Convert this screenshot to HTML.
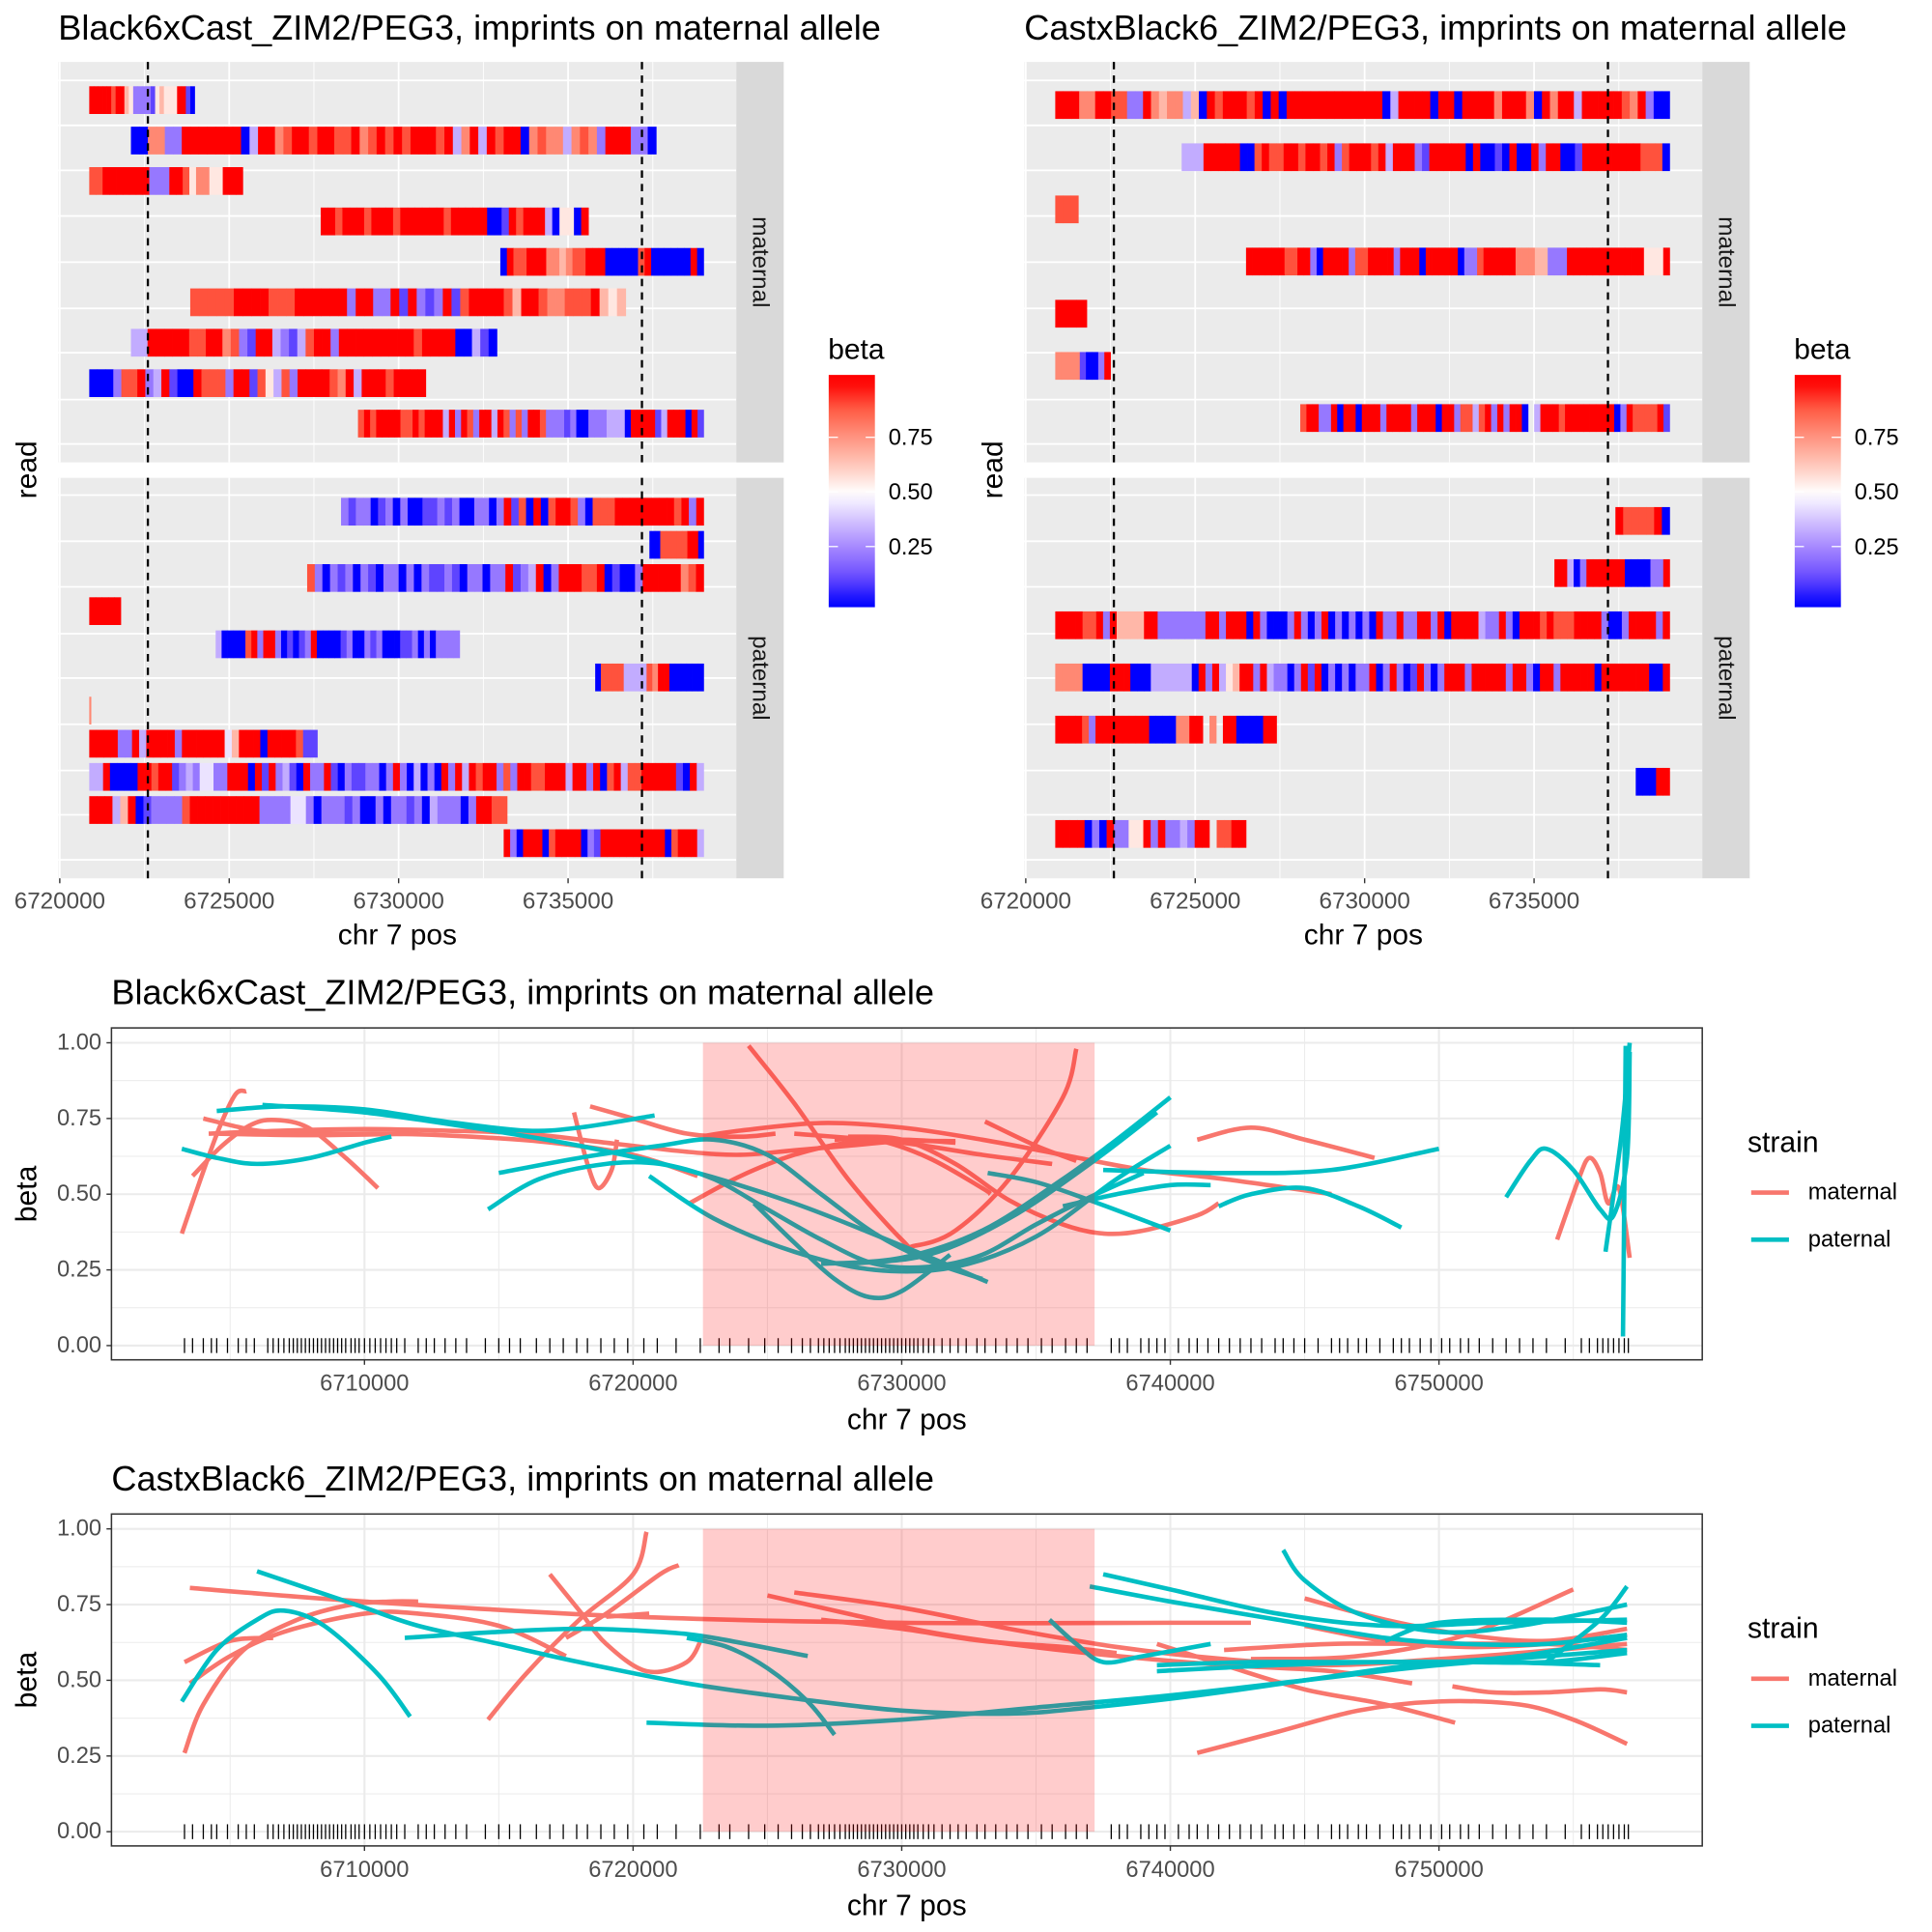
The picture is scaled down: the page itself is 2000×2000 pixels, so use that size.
<!DOCTYPE html>
<html><head><meta charset="utf-8"><style>
html,body{margin:0;padding:0;background:#fff}
svg{display:block}
text{font-family:"Liberation Sans",Arial,sans-serif}
</style></head><body>
<svg id="root" xmlns="http://www.w3.org/2000/svg" width="2000" height="2000" viewBox="0 0 1560 1560">
<rect x="0" y="0" width="1560" height="1560" fill="#fff"/>
<g id="heat"></g>
<g id="curves"></g>
</svg>
<script>
// ===== Heatmap data: [startKb, endKb, beta codes 0-9 (beta=code/9), '.' = gap] =====
const leftMaternal = [
 [6720.87,6723.98,"999998996522221565559910"],
 [6722.1,6737.6,"00772299999990399789989988978989899989379398990787737872999220"],
 [6720.87,6725.4,"88999999922299857755999"],
 [6727.7,6735.6,"9989998999899999989999900198999305509"],
 [6733.0,6739.0,"0988999776788999000008900000090"],
 [6723.85,6736.7,"88888999988899999929922919212918999986998778889656"],
 [6722.1,6732.9,"33999998899782199321389929999999998999900310"],
 [6720.87,6730.8,"000288923910098882991853829999879399989999"],
 [6728.8,6739.0,"898999988989993929829939828299822212002223330999913999091"]
];
const leftPaternal = [
 [6728.3,6739.0,"2122012020011212002202918090899820888999999998929"],
 [6737.4,6739.0,"0088888990"],
 [6727.3,6739.0,"8202120210220202112102202291239029998890100299999789"],
 [6720.87,6721.8,"99999"],
 [6724.6,6731.8,"30000892992010129000012002120001120202222"],
 [6735.8,6739.0,"0888833338799000000"],
 [6720.87,6720.92,"7"],
 [6720.87,6727.6,"99992293999929999994699909999811"],
 [6720.87,6739.0,"33900009989912324422999091923109229102112202920302092939899282998899939929089388999991093"],
 [6720.87,6733.2,"999369012222899999999922224420222120020221203222029988"],
 [6733.1,6739.0,"9209990899990219999999999089993"]
];
const rightMaternal = [
 [6720.87,6739.0,"99977998822976773609899989090999999999999039999099099997999709799399999879200"],
 [6724.6,6739.0,"3339999900898899899892899989399921999990900109009299001999999998880"],
 [6720.87,6721.55,"888"],
 [6726.5,6739.0,"999999889920999928899992999099999022899999777662229999999999995559"],
 [6720.87,6721.8,"999"],
 [6720.87,6722.5,"777710029"],
 [6728.1,6739.0,"8992290990999299992999099288389292990.3999899999999029888891"]
];
const rightPaternal = [
 [6737.4,6739.0,"9888890"],
 [6735.6,6739.0,"993029999990000229"],
 [6720.87,6739.0,"999988929666699222222299299909200029202902020209229229929099993229209998988899992002999929"],
 [6720.87,6739.0,"777700009990003333330929356992932202919020202290292019202999299999299209929999909999999009"],
 [6720.87,6727.4,"9999829999999900007799.7.99000099"],
 [6738.0,6739.0,"00099"],
 [6720.87,6726.5,"999902092255929223299.8899"]
];
const heatXTicks = [6720000, 6725000, 6730000, 6735000];
const heatXMinor = [6722500, 6727500, 6732500, 6737500];
const dashedLines = [6722600, 6737180];
const betaLegendTicks = [0.25, 0.50, 0.75];

// ===== Smooth-curve data: each curve = [[posKb, beta], ...] =====
const c3Maternal = [
 [[6703.2,.37],[6703.9,.55],[6704.6,.72],[6705.2,.83],[6705.6,.84]],
 [[6703.6,.56],[6704.7,.66],[6705.8,.73],[6706.7,.745],[6707.9,.72],[6709.3,.62],[6710.5,.52]],
 [[6704.0,.75],[6706,.71],[6708,.70],[6711,.70],[6714,.69],[6717,.67],[6720,.63],[6722.4,.56]],
 [[6704.2,.70],[6707,.71],[6710,.715],[6713,.71],[6716,.70],[6719,.67],[6722,.64],[6724,.63],[6726,.645],[6728,.66],[6730,.675],[6732,.675]],
 [[6704.5,.70],[6708,.695],[6712,.70]],
 [[6718.4,.79],[6720,.75],[6722,.70],[6724,.69],[6725.3,.70]],
 [[6717.8,.77],[6718.3,.60],[6718.7,.52],[6719.2,.58],[6719.4,.68]],
 [[6722.1,.47],[6724,.56],[6726,.63],[6728,.67],[6730,.68],[6732,.67]],
 [[6722.5,.69],[6724,.71],[6727,.735],[6730,.72],[6733,.68],[6736,.63],[6739,.58],[6742,.55],[6746,.50]],
 [[6724.3,.99],[6726,.80],[6728,.55],[6730,.35],[6730.5,.33],[6732,.38],[6734,.55],[6736,.82],[6736.5,.98]],
 [[6728,.69],[6730,.68],[6732,.60],[6734,.48],[6736,.40],[6737.5,.37],[6739,.38],[6741,.43],[6741.8,.47]],
 [[6727.5,.68],[6729,.68],[6731,.62],[6733,.52],[6733.3,.50]],
 [[6733.1,.74],[6735,.66],[6736.5,.61]],
 [[6726,.70],[6730,.67],[6733,.63],[6735.6,.60]],
 [[6741,.68],[6743,.72],[6745,.68],[6747.6,.62]],
 [[6754.4,.35],[6755.2,.55],[6755.6,.62],[6756,.57],[6756.3,.47],[6756.7,.52],[6757.1,.29]]
];
const c3Paternal = [
 [[6703.2,.65],[6704.5,.62],[6706,.60],[6708,.62],[6710,.67],[6711,.69]],
 [[6704.5,.775],[6707,.79],[6710,.78],[6713,.74],[6716,.71],[6718,.72],[6720.8,.76]],
 [[6706.2,.795],[6710,.77],[6714,.72],[6718,.66],[6722,.58],[6726,.47],[6730,.33],[6733.2,.21]],
 [[6714.6,.45],[6716.5,.55],[6719,.60],[6721,.60],[6723,.55],[6725,.45],[6727,.35],[6729,.27],[6731,.26],[6733,.30],[6735,.40],[6737,.49],[6739,.57]],
 [[6715,.57],[6718,.62],[6721,.66],[6723,.68],[6725,.63],[6727,.50],[6729,.37],[6731,.28],[6733,.22]],
 [[6720.6,.56],[6723,.42],[6726,.31],[6729,.25],[6732,.26],[6735,.36],[6738,.55],[6740,.66]],
 [[6724.5,.47],[6726,.34],[6727.5,.22],[6728.8,.16],[6730,.18],[6731.8,.30]],
 [[6727,.27],[6730,.29],[6733,.38],[6736,.55],[6738,.68],[6740,.82]],
 [[6728,.27],[6731,.30],[6734,.42],[6737,.60],[6739.5,.77]],
 [[6737.5,.58],[6742,.57],[6746,.58],[6750,.65]],
 [[6736,.46],[6738,.50],[6740,.53],[6741.5,.53]],
 [[6733.2,.57],[6735,.54],[6737,.48],[6740,.38]],
 [[6741.8,.46],[6743,.50],[6745,.52],[6747,.46],[6748.6,.39]],
 [[6752.5,.49],[6753.4,.61],[6754,.65],[6755,.58],[6756,.45],[6756.5,.43],[6757,.62],[6757.1,.97]],
 [[6756.2,.31],[6756.8,.70],[6757.1,1.0]],
 [[6756.85,.03],[6756.9,.5],[6756.95,.99]]
];
const c4Maternal = [
 [[6703.5,.805],[6710,.76],[6720,.71],[6730,.69],[6740,.69],[6743,.69]],
 [[6703.3,.26],[6704,.42],[6705.5,.60],[6707.5,.70],[6709.5,.75],[6711,.76],[6712,.76]],
 [[6703.5,.49],[6705,.58],[6707,.66],[6710,.72],[6712,.72],[6715,.68],[6717.5,.58]],
 [[6703.3,.56],[6705,.63],[6706.6,.64]],
 [[6714.6,.37],[6716,.52],[6718,.70],[6720,.85],[6720.5,.99]],
 [[6716.9,.85],[6718,.73],[6719,.62],[6720.5,.53],[6722,.56],[6722.6,.65]],
 [[6717.5,.64],[6719,.72],[6721,.85],[6721.7,.88]],
 [[6719,.71],[6720.6,.72]],
 [[6725,.78],[6728,.72],[6731,.66],[6734,.62],[6738,.58],[6742,.55],[6746,.53],[6749,.49]],
 [[6726,.79],[6730,.74],[6734,.67],[6738,.61],[6742,.57],[6746,.55],[6750,.57],[6753,.59],[6757,.62]],
 [[6727,.70],[6730,.67],[6733,.63],[6736,.61],[6738,.59]],
 [[6739.5,.62],[6742,.55],[6745,.47],[6748,.42],[6750.6,.36]],
 [[6741,.26],[6744,.33],[6747,.40],[6750,.43],[6753,.42],[6755,.37],[6757,.29]],
 [[6750.5,.48],[6752,.46],[6754,.46],[6756,.47],[6757,.46]],
 [[6745,.77],[6748,.70],[6751,.65],[6754,.63],[6757,.67]],
 [[6745,.68],[6748,.63],[6751,.61],[6754,.62],[6757,.65]],
 [[6743,.57],[6747,.58],[6751,.65],[6755,.80]],
 [[6742,.60],[6746,.62],[6750,.62],[6754,.62],[6757,.60]]
];
const c4Paternal = [
 [[6703.2,.43],[6704.5,.60],[6706,.70],[6707,.73],[6708.5,.68],[6710.5,.52],[6711.7,.38]],
 [[6706,.86],[6708,.80],[6710,.74],[6712,.68],[6715,.62],[6718,.56],[6722,.49],[6726,.44],[6730,.40],[6734,.39],[6737,.41],[6741,.45],[6745,.50],[6749,.55],[6753,.58],[6757,.64]],
 [[6711.5,.64],[6715,.66],[6718,.67],[6721,.66],[6723,.64],[6726.5,.58]],
 [[6722,.64],[6723.5,.61],[6725,.54],[6726.5,.43],[6727.5,.32]],
 [[6720.5,.36],[6725,.35],[6730,.37],[6735,.41],[6740,.45],[6745,.50],[6750,.55],[6757,.60]],
 [[6737.5,.85],[6740,.80],[6744,.72],[6748,.68],[6752,.69],[6757,.70]],
 [[6737,.81],[6740,.76],[6744,.70],[6748,.64],[6751,.62],[6754,.62],[6757,.65]],
 [[6735.5,.70],[6736.5,.62],[6737.5,.56],[6739,.58],[6741.5,.62]],
 [[6739.5,.55],[6743,.56],[6747,.56],[6751,.56],[6754,.56],[6757,.59]],
 [[6744.2,.93],[6745,.83],[6747,.72],[6750,.66],[6753,.68],[6757,.75]],
 [[6739.5,.53],[6744,.55],[6748,.56],[6752,.56],[6756,.55]],
 [[6748,.63],[6750,.69],[6754,.70],[6757,.69]],
 [[6754,.56],[6756,.70],[6757,.81]]
];
const rugPos = [6703.3,6703.6,6704.0,6704.3,6704.5,6704.9,6705.3,6705.6,6705.9,6706.4,6706.6,6706.8,6707.0,6707.2,6707.35,6707.5,6707.65,6707.8,6707.95,6708.1,6708.25,6708.4,6708.55,6708.7,6708.85,6709.0,6709.15,6709.3,6709.5,6709.65,6709.8,6710.0,6710.2,6710.4,6710.6,6710.8,6711.0,6711.2,6711.5,6712.0,6712.3,6712.6,6713.0,6713.4,6713.8,6714.5,6715.0,6715.4,6715.8,6716.4,6716.9,6717.4,6717.9,6718.3,6718.8,6719.3,6719.8,6720.4,6720.9,6721.6,6722.5,6723.2,6723.6,6724.3,6724.9,6725.4,6725.9,6726.3,6726.6,6726.9,6727.1,6727.3,6727.5,6727.7,6727.9,6728.05,6728.2,6728.35,6728.5,6728.65,6728.8,6728.95,6729.1,6729.25,6729.4,6729.55,6729.7,6729.85,6730.0,6730.15,6730.3,6730.45,6730.6,6730.8,6731.0,6731.2,6731.5,6731.8,6732.1,6732.4,6732.8,6733.1,6733.5,6733.9,6734.3,6734.7,6735.2,6735.6,6736.1,6736.5,6736.9,6737.8,6738.1,6738.4,6738.9,6739.2,6739.5,6739.8,6740.3,6740.7,6741.0,6741.4,6741.8,6742.2,6742.6,6743.0,6743.4,6743.9,6744.2,6744.6,6745.0,6745.5,6746.0,6746.3,6746.6,6747.0,6747.3,6747.8,6748.3,6748.6,6748.9,6749.3,6749.7,6750.1,6750.4,6750.8,6751.1,6751.5,6752.0,6752.5,6753.0,6753.5,6754.0,6754.7,6755.3,6755.6,6755.9,6756.1,6756.3,6756.5,6756.7,6756.9,6757.05];
const lineXTicks = [6710000, 6720000, 6730000, 6740000, 6750000];
const lineXMinor = [6705000, 6715000, 6725000, 6735000, 6745000, 6755000];
const lineYTicks = [0, 0.25, 0.5, 0.75, 1.0];
const lineYLabels = ["0.00","0.25","0.50","0.75","1.00"];
const regionKb = [6722.6, 6737.18];

const NS = "http://www.w3.org/2000/svg";
function mk(parent, tag, attrs, txt){
  const e = document.createElementNS(NS, tag);
  for (const k in attrs) e.setAttribute(k, attrs[k]);
  if (txt !== undefined) e.textContent = txt;
  parent.appendChild(e);
  return e;
}
// Lab-like blue-white-red palette (approximating ggplot gradient2)
const PAL = [[0,0,255],[106,76,255],[162,132,255],[210,192,255],[255,255,255],[255,200,188],[255,148,128],[255,92,69],[255,0,0]];
function betaColor(b){
  b = Math.min(1, Math.max(0, b));
  const f = b*8, i = Math.min(7, Math.floor(f)), t = f - i;
  const a = PAL[i], c = PAL[i+1];
  return `rgb(${Math.round(a[0]+(c[0]-a[0])*t)},${Math.round(a[1]+(c[1]-a[1])*t)},${Math.round(a[2]+(c[2]-a[2])*t)})`;
}
const heat = document.getElementById('heat');

function heatPanel(ox, title, matReads, patReads, mat0, mat1, pat0, pat1){
  const outer = mk(heat, 'g', {});
  
  
  const t = mk(outer, 'text', {x: ox+47, y: 32, 'font-size': 28.2, fill: '#000'}, title);
  
  
  const g = mk(outer, 'g', {transform: `translate(${ox},50) scale(0.995) translate(${-ox},-50)`});
  const X = k => ox + 48.5 + (k - 6720) * 27.5;
  const facets = [
    {y0:50, y1:375, reads:matReads, c0:mat0, c1:mat1, label:'maternal', grid:[65,101.5,138,175,212.5,250,286,324,360]},
    {y0:387.5, y1:712.5, reads:patReads, c0:pat0, c1:pat1, label:'paternal', grid:[401.5,439,476,514,550,587.5,625,661,697.5]}
  ];
  facets.forEach(f => {
    const bg = mk(g, 'rect', {x: ox+47.5, y: f.y0, width: 550, height: f.y1-f.y0, fill: '#ebebeb'});
    
    
    heatXMinor.forEach(v => mk(g, 'line', {x1: X(v/1000), x2: X(v/1000), y1: f.y0, y2: f.y1, stroke: '#fff', 'stroke-width': 0.7}));
    heatXTicks.forEach(v => mk(g, 'line', {x1: X(v/1000), x2: X(v/1000), y1: f.y0, y2: f.y1, stroke: '#fff', 'stroke-width': 1.4}));
    f.grid.forEach(y => mk(g, 'line', {x1: ox+47.5, x2: ox+597.5, y1: y, y2: y, stroke: '#fff', 'stroke-width': 1.4}));
    const n = f.reads.length;
    f.reads.forEach((rd, i) => {
      const cy = n > 1 ? f.c0 + i*(f.c1-f.c0)/(n-1) : f.c0;
      const rg = mk(g, 'g', {});
      
      
      const s = rd[0], e = rd[1], codes = rd[2];
      const w = (e - s) / codes.length;
      for (let j = 0; j < codes.length; j++){
        const ch = codes[j];
        if (ch === '.') continue;
        const b = parseInt(ch, 10) / 9;
        const x0 = X(s + j*w), x1 = X(s + (j+1)*w);
        mk(rg, 'rect', {x: x0, y: cy-11.25, width: Math.max(0.6, x1-x0+0.3), height: 22.5, fill: betaColor(b)});
      }
    });
    dashedLines.forEach(v => mk(g, 'line', {x1: X(v/1000), x2: X(v/1000), y1: f.y0, y2: f.y1, stroke: '#000', 'stroke-width': 1.8, 'stroke-dasharray': '6,5'}));
    const st = mk(g, 'rect', {x: ox+597.5, y: f.y0, width: 38.5, height: f.y1-f.y0, fill: '#d9d9d9'});
    
    
    const my = (f.y0+f.y1)/2;
    const stt = mk(g, 'text', {x: ox+617, y: my, 'font-size': 19, fill: '#1a1a1a', 'text-anchor': 'middle', 'dominant-baseline': 'central', transform: `rotate(90 ${ox+617} ${my})`}, f.label);
    
    
  });
  heatXTicks.forEach(v => {
    mk(g, 'line', {x1: X(v/1000), x2: X(v/1000), y1: 712.5, y2: 716.5, stroke: '#333', 'stroke-width': 1.1});
    const tl = mk(g, 'text', {x: X(v/1000), y: 737, 'font-size': 19, fill: '#4d4d4d', 'text-anchor': 'middle'}, String(v));
    
    
  });
  const xt = mk(g, 'text', {x: ox+322.5, y: 766, 'font-size': 23.5, fill: '#000', 'text-anchor': 'middle'}, 'chr 7 pos');
  
  
  const yt = mk(g, 'text', {x: ox+22, y: 381, 'font-size': 23.5, fill: '#000', 'text-anchor': 'middle', 'dominant-baseline': 'central', transform: `rotate(-90 ${ox+22} 381)`}, 'read');
  
  
  const lg = mk(g, 'g', {});
  
  
  mk(lg, 'text', {x: ox+672, y: 291, 'font-size': 23.5, fill: '#000'}, 'beta');
  const gid = 'grad' + ox;
  const defs = mk(lg, 'defs', {});
  const lgr = mk(defs, 'linearGradient', {id: gid, x1: 0, y1: 1, x2: 0, y2: 0});
  for (let k = 0; k <= 20; k++){
    const b = -0.01 + k*1.04/20;
    mk(lgr, 'stop', {offset: (k*5)+'%', 'stop-color': betaColor(b)});
  }
  mk(lg, 'rect', {x: ox+672.5, y: 304, width: 37.5, height: 188.5, fill: `url(#${gid})`});
  betaLegendTicks.forEach(b => {
    const y = 487.6 - b*177.3;
    mk(lg, 'line', {x1: ox+672.5, x2: ox+680, y1: y, y2: y, stroke: '#fff', 'stroke-width': 1});
    mk(lg, 'line', {x1: ox+702.5, x2: ox+710, y1: y, y2: y, stroke: '#fff', 'stroke-width': 1});
    mk(lg, 'text', {x: ox+721, y: y, 'font-size': 18.5, fill: '#000', 'dominant-baseline': 'central'}, b.toFixed(2));
  });
}
heatPanel(0, 'Black6xCast_ZIM2/PEG3, imprints on maternal allele', leftMaternal, leftPaternal, 81, 343.5, 415, 684);
heatPanel(780, 'CastxBlack6_ZIM2/PEG3, imprints on maternal allele', rightMaternal, rightPaternal, 85, 339, 422.5, 676.5);

// ===== line charts =====
const curvesG = document.getElementById('curves');
function smoothPath(pts){
  if (pts.length < 2) return '';
  let d = `M${pts[0][0].toFixed(2)},${pts[0][1].toFixed(2)}`;
  for (let i = 0; i < pts.length-1; i++){
    const p0 = pts[i-1] || pts[i], p1 = pts[i], p2 = pts[i+1], p3 = pts[i+2] || p2;
    const c1x = p1[0] + (p2[0]-p0[0])/6, c1y = p1[1] + (p2[1]-p0[1])/6;
    const c2x = p2[0] - (p3[0]-p1[0])/6, c2y = p2[1] - (p3[1]-p1[1])/6;
    d += ` C${c1x.toFixed(2)},${c1y.toFixed(2)} ${c2x.toFixed(2)},${c2y.toFixed(2)} ${p2[0].toFixed(2)},${p2[1].toFixed(2)}`;
  }
  return d;
}
function lineChart(top, title, mat, pat){
  const g = mk(curvesG, 'g', {});
  
  
  const PL = 90, PR = 1374.5, H = 268;
  const y0 = top, y1 = top + H;
  const Y = b => (top + 256.5) - b*244.5;
  const X = k => 294.3 + (k - 6710)*21.69;
  const t = mk(g, 'text', {x: 90, y: top-19, 'font-size': 28.2, fill: '#000'}, title);
  
  
  const clipId = 'clip' + Math.round(top);
  const defs = mk(g, 'defs', {});
  const cp = mk(defs, 'clipPath', {id: clipId});
  mk(cp, 'rect', {x: PL, y: y0, width: PR-PL, height: H});
  mk(g, 'rect', {x: PL, y: y0, width: PR-PL, height: H, fill: '#fff'});
  lineXMinor.forEach(v => mk(g, 'line', {x1: X(v/1000), x2: X(v/1000), y1: y0, y2: y1, stroke: '#ebebeb', 'stroke-width': 0.8}));
  lineXTicks.forEach(v => mk(g, 'line', {x1: X(v/1000), x2: X(v/1000), y1: y0, y2: y1, stroke: '#ebebeb', 'stroke-width': 1.6}));
  for (let i = 0; i < lineYTicks.length-1; i++){
    const m = (lineYTicks[i]+lineYTicks[i+1])/2;
    mk(g, 'line', {x1: PL, x2: PR, y1: Y(m), y2: Y(m), stroke: '#ebebeb', 'stroke-width': 0.8});
  }
  lineYTicks.forEach(b => mk(g, 'line', {x1: PL, x2: PR, y1: Y(b), y2: Y(b), stroke: '#ebebeb', 'stroke-width': 1.6}));
  const cg = mk(g, 'g', {'clip-path': `url(#${clipId})`});
  const drawSet = (set, color, name) => set.forEach((c, i) => {
    const pts = c.map(p => [X(p[0]), Y(p[1])]);
    const p = mk(cg, 'path', {d: smoothPath(pts), fill: 'none', stroke: color, 'stroke-width': 3.6, 'stroke-linecap': 'butt'});
    
    
  });
  drawSet(mat, '#F8766D', 'maternal');
  drawSet(pat, '#00BFC4', 'paternal');
  rugPos.forEach(k => mk(cg, 'line', {x1: X(k), x2: X(k), y1: Y(0)-6, y2: Y(0)+6, stroke: '#000', 'stroke-width': 1}));
  const reg = mk(g, 'rect', {x: X(regionKb[0]), y: Y(1), width: X(regionKb[1])-X(regionKb[0]), height: Y(0)-Y(1), fill: '#ff0000', 'fill-opacity': 0.2});
  
  
  mk(g, 'rect', {x: PL, y: y0, width: PR-PL, height: H, fill: 'none', stroke: '#333', 'stroke-width': 1.2});
  lineYTicks.forEach((b, i) => {
    mk(g, 'line', {x1: PL-4, x2: PL, y1: Y(b), y2: Y(b), stroke: '#333', 'stroke-width': 1.1});
    const tl = mk(g, 'text', {x: PL-8, y: Y(b), 'font-size': 18.5, fill: '#4d4d4d', 'text-anchor': 'end', 'dominant-baseline': 'central'}, lineYLabels[i]);
    
    
  });
  lineXTicks.forEach(v => {
    mk(g, 'line', {x1: X(v/1000), x2: X(v/1000), y1: y1, y2: y1+4, stroke: '#333', 'stroke-width': 1.1});
    const tl = mk(g, 'text', {x: X(v/1000), y: y1+25, 'font-size': 18.5, fill: '#4d4d4d', 'text-anchor': 'middle'}, String(v));
    
    
  });
  const xt = mk(g, 'text', {x: (PL+PR)/2, y: y1+56, 'font-size': 23.5, fill: '#000', 'text-anchor': 'middle'}, 'chr 7 pos');
  
  
  const cy = (y0+y1)/2;
  const yt = mk(g, 'text', {x: 22, y: cy, 'font-size': 23.5, fill: '#000', 'text-anchor': 'middle', 'dominant-baseline': 'central', transform: `rotate(-90 22 ${cy})`}, 'beta');
  
  
  const lg = mk(g, 'g', {});
  
  
  mk(lg, 'text', {x: 1411, y: top+100, 'font-size': 23.5, fill: '#000'}, 'strain');
  [['maternal','#F8766D',top+133],['paternal','#00BFC4',top+171]].forEach(e => {
    const k = mk(lg, 'line', {x1: 1414, x2: 1444.5, y1: e[2], y2: e[2], stroke: e[1], 'stroke-width': 3.6});
    
    
    mk(lg, 'text', {x: 1460, y: e[2], 'font-size': 18.5, fill: '#000', 'dominant-baseline': 'central'}, e[0]);
  });
}
lineChart(830, 'Black6xCast_ZIM2/PEG3, imprints on maternal allele', c3Maternal, c3Paternal);
lineChart(1222.5, 'CastxBlack6_ZIM2/PEG3, imprints on maternal allele', c4Maternal, c4Paternal);
</script>
</body></html>
